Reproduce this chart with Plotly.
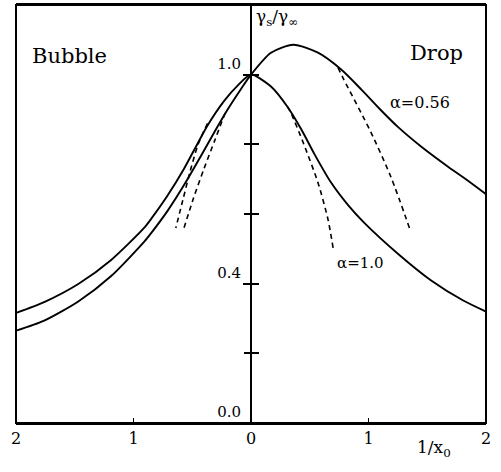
import plotly.graph_objects as go

# alpha = 1.0 solid curve (bubble side: negative 1/x0, drop side: positive)
a1_x = [-2.0, -1.76, -1.47, -1.19, -0.91, -0.85, -0.71, -0.57, -0.485, -0.37, -0.23, -0.11, 0.0,
        0.17, 0.31, 0.43, 0.54, 0.68, 0.83, 0.96, 1.25, 1.53, 1.81, 2.0]
a1_y = [0.316, 0.347, 0.399, 0.468, 0.56, 0.586, 0.653, 0.73, 0.783, 0.854, 0.924, 0.97, 1.0,
        0.966, 0.908, 0.842, 0.772, 0.691, 0.624, 0.576, 0.486, 0.41, 0.351, 0.32]

# alpha = 0.56 solid curve
a056_x = [-2.0, -1.76, -1.47, -1.19, -0.91, -0.85, -0.71, -0.57, -0.425, -0.31, -0.195, -0.085, 0.0,
          0.17, 0.36, 0.57, 0.77, 0.94, 1.1, 1.25, 1.45, 1.68, 1.85, 2.0]
a056_y = [0.265, 0.294, 0.349, 0.422, 0.52, 0.545, 0.609, 0.683, 0.767, 0.836, 0.902, 0.959, 1.0,
          1.063, 1.086, 1.063, 1.014, 0.957, 0.90, 0.85, 0.793, 0.735, 0.695, 0.657]

# dashed asymptotic curves
d1_right_x = [0.31, 0.34, 0.45, 0.57, 0.655, 0.70]
d1_right_y = [0.908, 0.89, 0.80, 0.69, 0.585, 0.50]
d056_right_x = [0.74, 0.79, 1.02, 1.19, 1.36]
d056_right_y = [1.02, 0.986, 0.835, 0.707, 0.549]
d_left_outer_x = [-0.37, -0.45, -0.52, -0.58, -0.64]
d_left_outer_y = [0.86, 0.80, 0.72, 0.64, 0.56]
d_left_inner_x = [-0.22, -0.31, -0.40, -0.49, -0.57]
d_left_inner_y = [0.89, 0.81, 0.73, 0.645, 0.56]

x_tickvals = [-2, -1, 0, 1, 2]
x_ticktext = ["2", "1", "0", "1", "2"]
y_label_vals = [0.0, 0.4, 1.0]
y_label_text = ["0.0", "0.4", "1.0"]
y_minor_vals = [0.2, 0.6, 0.8]
y_all_vals = [0.0, 0.2, 0.4, 0.6, 0.8, 1.0]

FONT = "DejaVu Serif"
fig = go.Figure()
line = dict(color="black", width=1.9)
dline = dict(color="black", width=1.6, dash="5px,4px")
for xs, ys in [(a1_x, a1_y), (a056_x, a056_y)]:
    fig.add_trace(go.Scatter(x=xs, y=ys, mode="lines", line=dict(line, shape="spline", smoothing=0.7),
                             showlegend=False, hoverinfo="skip"))
for xs, ys in [(d1_right_x, d1_right_y), (d056_right_x, d056_right_y),
               (d_left_outer_x, d_left_outer_y), (d_left_inner_x, d_left_inner_y)]:
    fig.add_trace(go.Scatter(x=xs, y=ys, mode="lines", line=dict(dline, shape="spline", smoothing=0.7),
                             showlegend=False, hoverinfo="skip"))
fig.add_trace(go.Scatter(x=[None], y=[None], yaxis="y2", showlegend=False))
fig.add_trace(go.Scatter(x=[None], y=[None], yaxis="y3", showlegend=False))

common_y = dict(range=[0, 1.2], anchor="free", position=0.5, showgrid=False, zeroline=False,
                tickcolor="black", tickwidth=1.5, ticklen=7, automargin=False)
fig.update_layout(
    width=501, height=472,
    margin=dict(l=16, r=15, t=5, b=49),
    paper_bgcolor="white", plot_bgcolor="white",
    font=dict(family=FONT, color="black", size=15),
    xaxis=dict(range=[-2, 2], tickvals=x_tickvals, ticktext=x_ticktext, ticks="inside", ticklen=5,
               tickcolor="black", showgrid=False, zeroline=False, showline=True, mirror=True,
               linecolor="black", linewidth=2, tickfont=dict(size=16, family=FONT), automargin=False),
    yaxis=dict(common_y, tickvals=y_label_vals, ticktext=y_label_text, ticks="outside",
               showline=True, linecolor="black", linewidth=2, ticklabelposition="outside top",
               ticklabelstandoff=6, tickfont=dict(size=15, family=FONT)),
    yaxis2=dict(common_y, overlaying="y", tickvals=y_all_vals, showticklabels=False, ticks="inside",
                showline=False, side="left"),
    yaxis3=dict(common_y, overlaying="y", tickvals=y_minor_vals, showticklabels=False, ticks="outside",
                showline=False, side="left"),
)
fig.add_shape(type="rect", xref="paper", yref="paper", x0=0, x1=1, y0=0, y1=1,
              line=dict(color="black", width=2))

ann = [
    dict(text="Bubble", x=0.03, y=0.878, xanchor="left", size=21),
    dict(text="Drop", x=0.834, y=0.886, xanchor="left", size=21),
    dict(text="α=0.56", x=0.791, y=0.766, xanchor="left", size=16),
    dict(text="α=1.0", x=0.679, y=0.383, xanchor="left", size=15),
    dict(text="γ<sub>s</sub>/γ<sub>∞</sub>", x=0.506, y=0.969, xanchor="left", size=17),
    dict(text="1/x<sub>0</sub>", x=0.889, y=-0.06, xanchor="center", size=17),
]
for a in ann:
    fig.add_annotation(text=a["text"], x=a["x"], y=a["y"], xref="paper", yref="paper",
                       xanchor=a["xanchor"], yanchor="middle", showarrow=False,
                       font=dict(family=FONT, size=a["size"], color="black"))

fig.write_html("out.html", config={"displayModeBar": False},
               post_script="document.body.style.margin='0';document.body.style.padding='0';")
